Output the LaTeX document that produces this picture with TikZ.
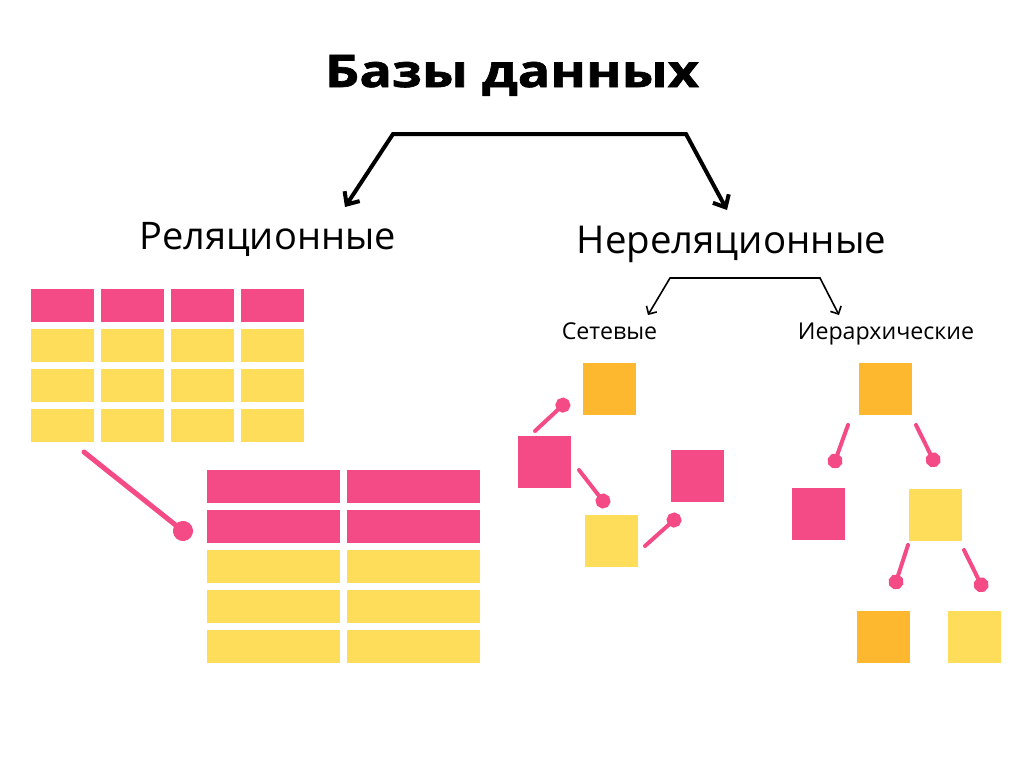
\documentclass[tikz,border=0pt]{standalone}
\usepackage{fontspec}
\setmainfont{Open Sans}
\newfontfamily\titlefont[BoldFeatures={FakeStretch=1.2, FakeBold=1.5}]{Open Sans}
\usepackage{xcolor}
\usetikzlibrary{arrows.meta}
\definecolor{dbpink}{HTML}{F44B87}
\definecolor{dbyellow}{HTML}{FEDD5B}
\definecolor{dborange}{HTML}{FEB82F}
\begin{document}
\begin{tikzpicture}[x=0.5pt, y=-0.5pt,
  cell/.style={rectangle, inner sep=0pt, minimum width=31.5pt, minimum height=16.5pt},
  widecell/.style={cell, minimum width=66.5pt},
  square/.style={rectangle, inner sep=0pt, minimum width=26.5pt, minimum height=26pt},
  label/.style={anchor=base, inner sep=0pt},
  bigbranch/.style={draw, line width=2pt, {Straight Barb[length=5pt, width=9pt]}-{Straight Barb[length=5pt, width=9pt]}},
  smallbranch/.style={draw, line width=0.8pt, {Straight Barb[length=3pt, width=6pt]}-{Straight Barb[length=3pt, width=6pt]}},
  link/.style={draw=dbpink, line width=2pt, line cap=round, -{Circle[length=7.5pt]}},
  biglink/.style={link, line width=2.5pt, -{Circle[length=10pt]}}]%
\useasboundingbox (0,0) rectangle (1024,768);%
\node[label, font=\fontsize{22.5pt}{27pt}\titlefont\bfseries] (title) at (512, 87) {Базы данных};%
\node[label, font=\fontsize{19pt}{23pt}\selectfont] (rel) at (267.5, 249) {Реляционные};%
\node[label, font=\fontsize{19.2pt}{23pt}\selectfont] (nonrel) at (731.5, 253) {Нереляционные};%
\node[label, font=\fontsize{11.6pt}{14pt}\selectfont] (net) at (609.5, 339) {Сетевые};%
\node[label, font=\fontsize{11.6pt}{14pt}\selectfont] (hier) at (886, 339) {Иерархические};%
% branches
\coordinate (relTip) at (345, 207);%
\coordinate (relTop) at (393, 134);%
\coordinate (nonTop) at (686, 134);%
\coordinate (nonTip) at (727, 210);%
\draw[bigbranch] (relTip) -- (relTop) -- (nonTop) -- (nonTip);%
\coordinate (netTip) at (648, 315);%
\coordinate (netTop) at (670, 278);%
\coordinate (hierTop) at (820, 278);%
\coordinate (hierTip) at (839, 315);%
\draw[smallbranch] (netTip) -- (netTop) -- (hierTop) -- (hierTip);%
% relational tables
\foreach \c in {0,...,3} {%
  \node[cell, fill=dbpink] (ta-0-\c) at (62+70*\c, 305.5) {};%
  \foreach \r in {1,2,3}
    \node[cell, fill=dbyellow] (ta-\r-\c) at (62+70*\c, 305.5+40*\r) {};%
}%
\foreach \c in {0,1} {%
  \foreach \r in {0,1}
    \node[widecell, fill=dbpink] (tb-\r-\c) at (273.5+140*\c, 486.5+40*\r) {};%
  \foreach \r in {2,3,4}
    \node[widecell, fill=dbyellow] (tb-\r-\c) at (273.5+140*\c, 486.5+40*\r) {};%
}%
\coordinate (relFrom) at (84, 452);%
\coordinate (relTo) at (190.8, 537.2);%
\draw[biglink] (relFrom) -- (relTo);%
% network model
\node[square, fill=dborange] (n1) at (609.5, 389) {};%
\node[square, fill=dbpink] (n2) at (544.5, 461.5) {};%
\node[square, fill=dbpink] (n3) at (697.5, 475.5) {};%
\node[square, fill=dbyellow] (n4) at (611.5, 540.5) {};%
\coordinate (na) at (535, 431);  \coordinate (nb) at (568.4, 400);%
\coordinate (nc) at (579, 470);  \coordinate (nd) at (607.6, 506.9);%
\coordinate (ne) at (645, 546);  \coordinate (nf) at (679.6, 515);%
\draw[link] (na) -- (nb);%
\draw[link] (nc) -- (nd);%
\draw[link] (ne) -- (nf);%
% hierarchical model
\node[square, fill=dborange] (h1) at (885.5, 389) {};%
\node[square, fill=dbpink] (h2) at (818.5, 513.5) {};%
\node[square, fill=dbyellow] (h3) at (935.5, 514.5) {};%
\node[square, fill=dborange] (h4) at (883.5, 637) {};%
\node[square, fill=dbyellow] (h5) at (974.5, 637) {};%
\coordinate (ha) at (848, 425);  \coordinate (hb) at (832.5, 468);%
\coordinate (hc) at (916, 425);  \coordinate (hd) at (936.5, 466.5);%
\coordinate (he) at (908, 545);  \coordinate (hf) at (893.7, 589);%
\coordinate (hg) at (964, 550);  \coordinate (hh) at (984.5, 591.5);%
\draw[link] (ha) -- (hb);%
\draw[link] (hc) -- (hd);%
\draw[link] (he) -- (hf);%
\draw[link] (hg) -- (hh);%
\end{tikzpicture}
\end{document}
